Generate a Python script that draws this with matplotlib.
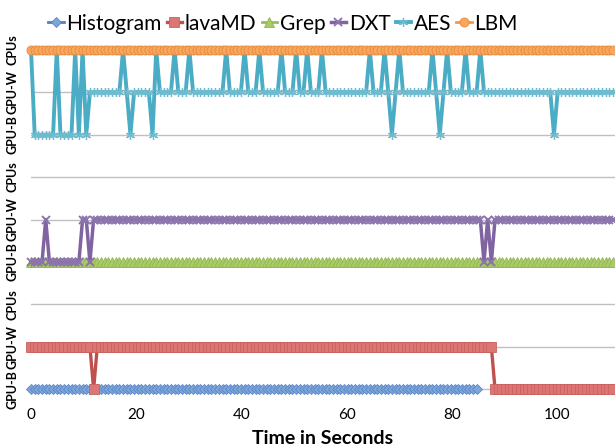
import numpy as np
import matplotlib
matplotlib.use("Agg")
import matplotlib.pyplot as plt

plt.rcParams['font.family'] = ['Lato', 'DejaVu Sans']

# ---------------- data ----------------
DT = 0.7                      # seconds between samples
level_names = ["GPU-B", "GPU-W", "CPUs"]
level_code = {"B": 0, "W": 1, "C": 2}
x_ticks = [0, 20, 40, 60, 80, 100]

series_names = ["Histogram", "lavaMD", "Grep", "DXT", "AES", "LBM"]
series_panel = [0, 0, 1, 1, 2, 2]   # 0 = bottom panel, 2 = top panel

# run-length encoded states: level letters and sample counts
histogram_levels = list("B")
histogram_counts = [122]

lavamd_levels = list("WBWB")
lavamd_counts = [17, 1, 108, 33]

grep_levels = list("B")
grep_counts = [159]

dxt_levels = list("BWBWBWBWBW")
dxt_counts = [4, 1, 9, 2, 1, 106, 1, 1, 1, 33]

aes_levels = list("CBCBCBCB" "WCWBWBC" "WCWCWCWCWCWCWCWCWCWCWC" "WBWCWCWBWCWCWCWBW")
aes_counts = [1, 6, 1, 4, 1, 1, 1, 1,
              9, 1, 1, 1, 5, 1, 1,
              4, 1, 3, 1, 9, 1, 4, 1, 3, 1, 5, 1, 3, 1, 2, 1, 3, 1, 12, 1, 3, 1,
              1, 1, 1, 1, 8, 1, 1, 1, 1, 1, 4, 1, 3, 1, 19, 1, 16]

lbm_levels = list("C")
lbm_counts = [159]

all_levels = [histogram_levels, lavamd_levels, grep_levels, dxt_levels, aes_levels, lbm_levels]
all_counts = [histogram_counts, lavamd_counts, grep_counts, dxt_counts, aes_counts, lbm_counts]

# ---------------- styles ----------------
styles = {
    "Histogram": dict(color="#4F81BD", marker="D", ms=5.5, mfc="#7DA5DC", mec="#5A88C4", mew=0.6, lw=2.0),
    "lavaMD":    dict(color="#C0504D", marker="s", ms=6.5, mfc="#DC7674", mec="#C9625F", mew=0.6, lw=2.4),
    "Grep":      dict(color="#9BBB59", marker="^", ms=6.5, mfc="#A8CB66", mec="#93B653", mew=0.6, lw=2.0),
    "DXT":       dict(color="#8064A2", marker="x", ms=5.5, mfc="#8064A2", mec="#8C74AC", mew=1.4, lw=2.5),
    "AES":       dict(color="#4BACC6", marker=(6, 2, 0), ms=6.5, mfc="#4BACC6", mec="#6FBCD1", mew=0.9, lw=2.8),
    "LBM":       dict(color="#F79646", marker="o", ms=6.5, mfc="#F9A75E", mec="#E48A3E", mew=0.6, lw=2.0),
}

fig = plt.figure(figsize=(6.15, 4.47), dpi=100)
ax = fig.add_axes([31 / 615, 1 - 402 / 447, 584 / 615, 365 / 447])

for k in range(9):
    ax.axhline(k, color="#BFBFBF", lw=1.0, zorder=0)

handles = []
for name, panel, levs, cnts in zip(series_names, series_panel, all_levels, all_counts):
    vals = np.repeat([level_code[c] for c in levs], cnts) + 3 * panel
    t = np.arange(len(vals)) * DT
    st = styles[name]
    h, = ax.plot(t, vals, color=st["color"], lw=st["lw"], marker=st["marker"], ms=st["ms"],
                 mfc=st["mfc"], mec=st["mec"], mew=st["mew"], clip_on=False, label=name, zorder=3)
    handles.append(h)

ax.set_xlim(0, 111)
ax.set_ylim(-0.3, 8.3)
ax.set_xticks(x_ticks)
ax.set_xticklabels([str(v) for v in x_ticks], fontsize=11)
ax.set_yticks(range(9))
ax.set_yticklabels(level_names * 3, rotation=90, fontsize=9, fontweight="bold", va="center")
ax.tick_params(axis="both", length=0)
ax.tick_params(axis="x", pad=4)
ax.tick_params(axis="y", pad=9)
for s in ax.spines.values():
    s.set_visible(False)

ax.set_xlabel("Time in Seconds", fontsize=14, fontweight="bold", labelpad=6)

fig.legend(handles=handles, loc="center", bbox_to_anchor=(0.46, 0.947), ncol=6, frameon=False,
           fontsize=15, handlelength=0.75, handletextpad=0.12, columnspacing=0.25, borderpad=0)

fig.savefig("out.png", dpi=100)
